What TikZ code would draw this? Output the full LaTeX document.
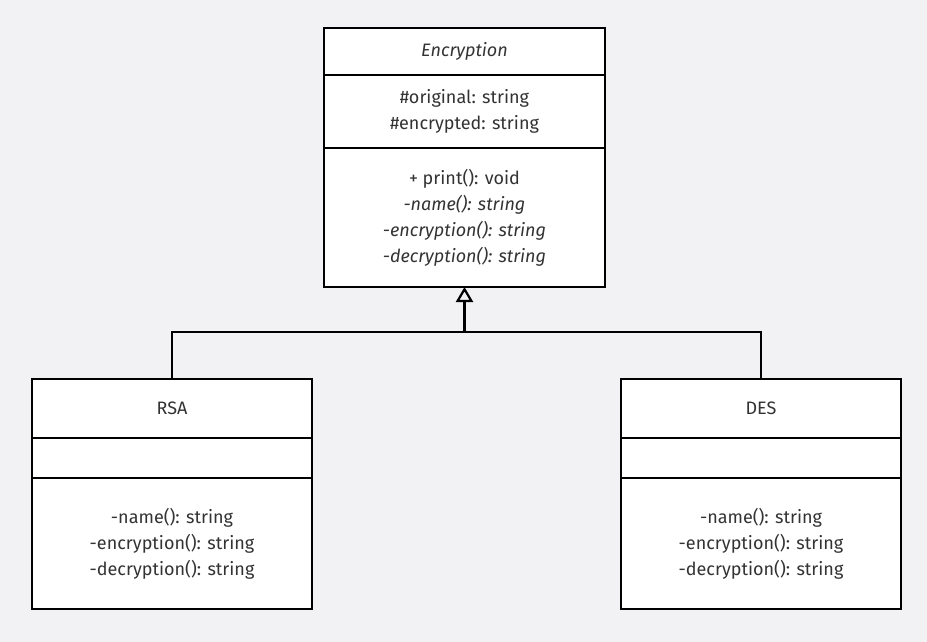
\documentclass[tikz,border=0pt]{standalone}
\usepackage{fontspec}
\setmainfont{Fira Sans}
\usetikzlibrary{positioning,arrows.meta}
\definecolor{bg}{HTML}{F2F2F4}
\definecolor{txt}{HTML}{333333}

\tikzset{
  part/.style={draw=black, line width=1.8pt, fill=white, text=txt,
    inner sep=0pt, outer sep=0pt, align=center,
    font=\fontsize{18}{26}\selectfont},
  enc/.style={part, minimum width=281pt},
  sub/.style={part, minimum width=280pt},
  link/.style={draw=black, line width=2.2pt},
}

\begin{document}
\begin{tikzpicture}[x=1pt,y=-1pt]
    \fill[bg] (0,0) rectangle (927,642);
    % abstract class
    \node[enc, minimum height=47pt, anchor=north] (enc-name) at (464.5,28)
        {\textit{Encryption}};
    \node[enc, minimum height=73pt, below=0pt of enc-name] (enc-attr)
        {\#original: string\\\#encrypted: string};
    \node[enc, minimum height=139pt, below=0pt of enc-attr] (enc-ops)
        {+ print(): void\\\textit{-name(): string}\\\textit{-encryption(): string}\\\textit{-decryption(): string}};
    % subclasses
    \node[sub, minimum height=59pt, anchor=north] (rsa-name) at (172,379) {RSA};
    \node[sub, minimum height=40pt, below=0pt of rsa-name] (rsa-attr) {};
    \node[sub, minimum height=131pt, below=0pt of rsa-attr] (rsa-ops)
        {-name(): string\\-encryption(): string\\-decryption(): string};
    \node[sub, minimum height=59pt, anchor=north] (des-name) at (761,379) {DES};
    \node[sub, minimum height=40pt, below=0pt of des-name] (des-attr) {};
    \node[sub, minimum height=131pt, below=0pt of des-attr] (des-ops)
        {-name(): string\\-encryption(): string\\-decryption(): string};
    % generalization
    \coordinate (join) at (enc-ops.south |- 0,332);
    \draw[link] (rsa-name.north) |- (join) -| (des-name.north);
    \draw[link, -{Triangle[open, length=15pt, width=17pt]}] (join) -- (enc-ops.south);
\end{tikzpicture}
\end{document}
